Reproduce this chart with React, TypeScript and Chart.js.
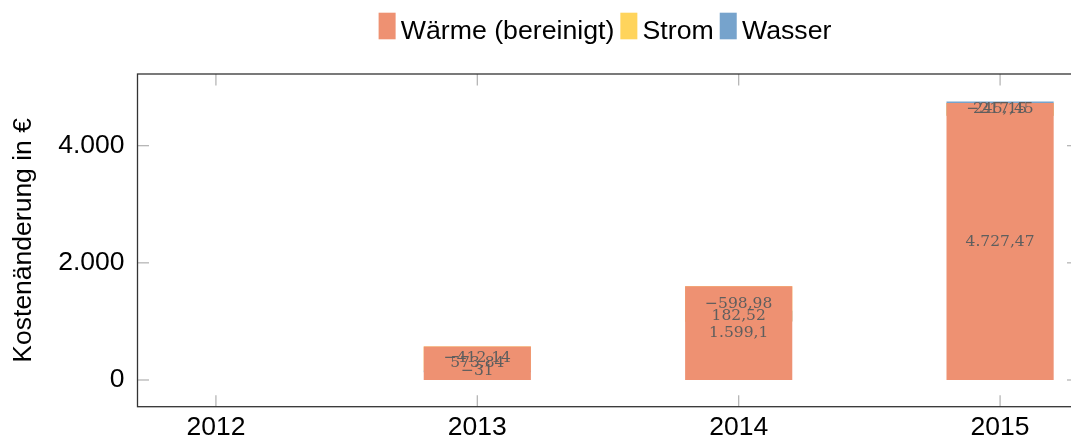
import React, { useEffect, useRef } from 'react';
import { Chart, registerables } from 'chart.js';

Chart.register(...registerables);

// ---- data ----
const years = [2012, 2013, 2014, 2015];
const seriesNames = ['Wärme (bereinigt)', 'Strom', 'Wasser'];
const waerme: (number | null)[] = [null, 573.84, 1599.1, 4727.47];
const strom: (number | null)[] = [null, -412.14, -598.98, -217.45];
const wasser: (number | null)[] = [null, -31, 182.52, 245.15];
const seriesColors = ['#EE9172', '#FFD45C', '#76A3CC'];
const yTicks = [0, 2000, 4000];
const yTitle = 'Kostenänderung in €';

const SANS = '"Liberation Sans", Arial, sans-serif';
const SERIF = '"DejaVu Serif", serif';

function fmt(v: number): string {
  const neg = v < 0;
  const a = Math.round(Math.abs(v) * 100) / 100;
  const intPart = Math.floor(a + 1e-9);
  const frac = Math.round((a - intPart) * 100);
  let s = String(intPart).replace(/\B(?=(\d{3})+(?!\d))/g, '.');
  if (frac > 0) {
    s += ',' + String(frac).padStart(2, '0').replace(/0+$/, '');
  }
  return (neg && a !== 0 ? '\u2212' : '') + s;
}

function buildDatasets() {
  const all = [waerme, strom, wasser];
  const cum = years.map(() => 0);
  return all.map((vals, si) => {
    const data: any[] = [];
    vals.forEach((v, i) => {
      if (v === null) return;
      const start = cum[i];
      const end = start + v;
      cum[i] = end;
      data.push({ x: years[i], y: [start, end], v });
    });
    return {
      label: seriesNames[si],
      data,
      backgroundColor: seriesColors[si],
      borderWidth: 0,
      grouped: false,
      barPercentage: 0.41,
      categoryPercentage: 1,
    };
  });
}

const decorPlugin = {
  id: 'decor',
  afterDatasetsDraw(chart: any) {
    const { ctx, chartArea: ca, scales } = chart;
    const xs = scales.x;
    const ys = scales.y;
    ctx.save();

    // value labels
    ctx.font = '15.5px ' + SERIF;
    ctx.fillStyle = '#5e5e5e';
    ctx.textAlign = 'center';
    ctx.textBaseline = 'middle';
    chart.data.datasets.forEach((ds: any) => {
      ds.data.forEach((p: any) => {
        const py = ys.getPixelForValue((p.y[0] + p.y[1]) / 2);
        ctx.fillText(fmt(p.v), xs.getPixelForValue(p.x), py);
      });
    });

    // inward ticks
    const line = (x1: number, y1: number, x2: number, y2: number) => {
      ctx.beginPath();
      ctx.moveTo(x1, y1);
      ctx.lineTo(x2, y2);
      ctx.stroke();
    };
    ctx.strokeStyle = '#b0b0b0';
    ctx.lineWidth = 1.2;
    const tl = 11.5;
    yTicks.forEach((v) => {
      const py = ys.getPixelForValue(v);
      line(ca.left, py, ca.left + tl, py);
      line(ca.right - tl, py, ca.right, py);
    });
    years.forEach((v) => {
      const px = xs.getPixelForValue(v);
      line(px, ca.bottom, px, ca.bottom - tl);
      line(px, ca.top, px, ca.top + tl);
    });

    // axis box
    ctx.strokeStyle = '#333333';
    ctx.lineWidth = 1.3;
    ctx.strokeRect(ca.left, ca.top, ca.right - ca.left, ca.bottom - ca.top);

    // legend
    ctx.font = '26.7px ' + SANS;
    ctx.textAlign = 'left';
    ctx.textBaseline = 'alphabetic';
    ctx.fillStyle = '#000';
    const boxW = 17;
    const boxH = 26.6;
    const gapBT = 5.2;
    const gapTB = 6;
    const widths = seriesNames.map((n) => ctx.measureText(n).width);
    let total = 0;
    widths.forEach((w, i) => {
      total += boxW + gapBT + w + (i < widths.length - 1 ? gapTB : 0);
    });
    let x = 605 - total / 2;
    seriesNames.forEach((n, i) => {
      ctx.fillStyle = seriesColors[i];
      ctx.fillRect(x, 12.7, boxW, boxH);
      x += boxW + gapBT;
      ctx.fillStyle = '#000';
      ctx.fillText(n, x, 38.5);
      x += widths[i] + gapTB;
    });

    ctx.restore();
  },
};

export default function App() {
  const ref = useRef<HTMLCanvasElement | null>(null);
  useEffect(() => {
    if (!ref.current) return;
    const chart = new Chart(ref.current, {
      type: 'bar',
      data: { datasets: buildDatasets() as any },
      options: {
        responsive: false,
        animation: false,
        devicePixelRatio: 1,
        layout: { padding: { top: 74, right: 21.5, bottom: 0, left: 0 } },
        plugins: { legend: { display: false }, tooltip: { enabled: false } },
        scales: {
          x: {
            type: 'linear',
            offset: false,
            min: 2011.7,
            max: 2015.3,
            grid: { display: false, drawTicks: false, offset: false },
            border: { display: false },
            afterBuildTicks: (s: any) => {
              s.ticks = years.map((v) => ({ value: v }));
            },
            afterFit: (s: any) => {
              s.height = 39.3;
            },
            ticks: {
              padding: 5,
              color: '#000',
              font: { family: SANS, size: 26.5 },
              callback: (v: any) => String(v),
            },
          },
          y: {
            type: 'linear',
            min: -456,
            max: 5224,
            grid: { display: false, drawTicks: false },
            border: { display: false },
            afterBuildTicks: (s: any) => {
              s.ticks = yTicks.map((v) => ({ value: v }));
            },
            afterFit: (s: any) => {
              s.width = 137.5;
            },
            ticks: {
              padding: 13,
              color: '#000',
              font: { family: SANS, size: 26.5 },
              callback: (v: any) => fmt(Number(v)),
            },
            title: {
              display: true,
              text: yTitle,
              color: '#000',
              font: { family: SANS, size: 26.5 },
              padding: { top: 8, bottom: 0 },
            },
          },
        },
      },
      plugins: [decorPlugin],
    });
    return () => chart.destroy();
  }, []);
  return (
    <div
      style={{
        position: 'fixed',
        left: 0,
        top: 0,
        width: 1071,
        height: 446,
        overflow: 'hidden',
        background: '#fff',
      }}
    >
      <canvas ref={ref} width={1100} height={446} style={{ display: 'block' }} />
    </div>
  );
}
